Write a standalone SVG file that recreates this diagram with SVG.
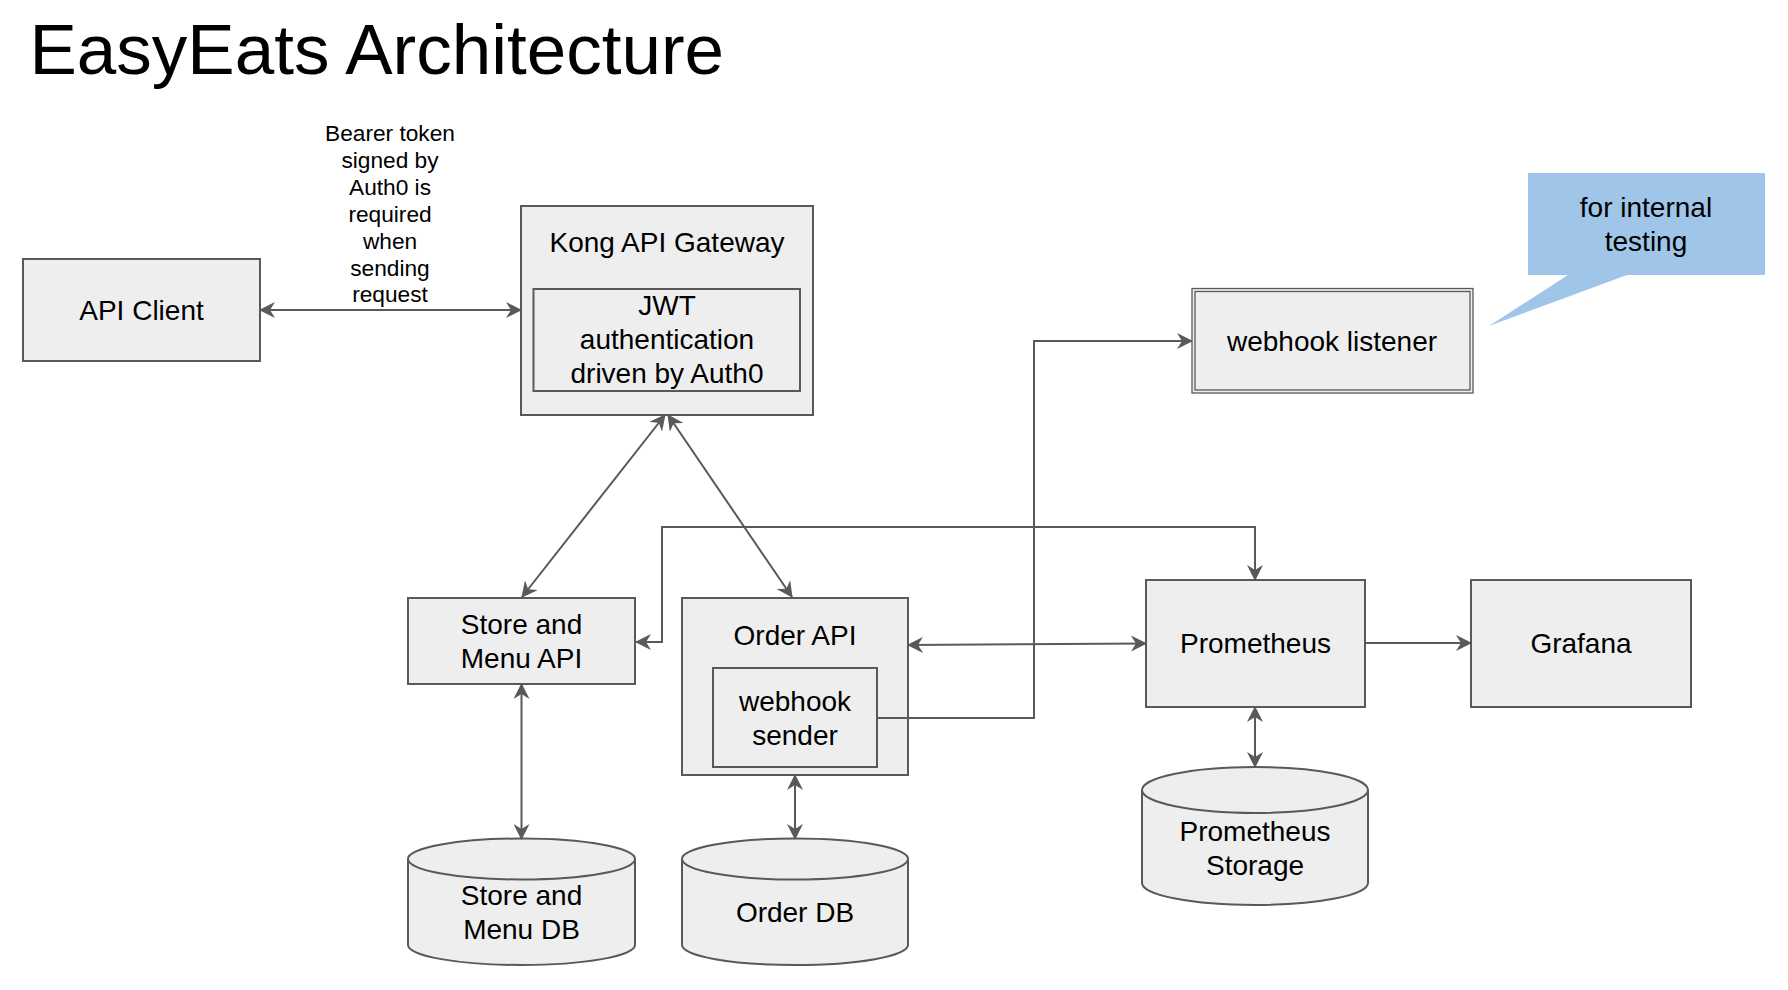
<svg xmlns="http://www.w3.org/2000/svg" width="1788" height="990" viewBox="0 0 1788 990">
<style>
.box{fill:#eeeeee;stroke:#595959;stroke-width:2}
.thin{fill:none;stroke:#595959;stroke-width:1.3}
.con{fill:none;stroke:#595959;stroke-width:2}
text{font-family:"Liberation Sans",Arial,sans-serif;fill:#000;text-anchor:middle}
.l{font-size:28px}
.s{font-size:22.7px}
</style>
<defs>
<marker id="ah" viewBox="0 0 16 16" refX="15" refY="8" markerWidth="16" markerHeight="16" markerUnits="userSpaceOnUse" orient="auto-start-reverse">
<path d="M0,0 L16,8 L0,16 L5,8 Z" fill="#595959"/>
</marker>
</defs>
<rect width="1788" height="990" fill="#ffffff"/>
<text x="29.5" y="74" style="font-size:71px;text-anchor:start">EasyEats Architecture</text>

<g id="api-client">
<rect class="box" x="23" y="259" width="237" height="102"/>
<text class="l" x="141.5" y="320">API Client</text>
</g>

<g id="kong">
<rect class="box" x="521" y="206" width="292" height="209"/>
<text class="l" x="667" y="252">Kong API Gateway</text>
</g>
<g id="jwt">
<rect class="box" x="533.5" y="289" width="266.5" height="102"/>
<text class="l" x="667" y="315">JWT</text>
<text class="l" x="667" y="349">authentication</text>
<text class="l" x="667" y="383">driven by Auth0</text>
</g>

<g id="webhook-listener">
<rect x="1192" y="288.5" width="281" height="104.5" fill="#eeeeee" stroke="#595959" stroke-width="1.3"/>
<rect class="thin" x="1195" y="291.5" width="275" height="98.5"/>
<text class="l" x="1332" y="351">webhook listener</text>
</g>

<g id="callout">
<path d="M1528,173 L1765,173 L1765,275 L1627,275 L1489,326 L1568,275 L1528,275 Z" fill="#9fc5e8"/>
<text class="l" x="1646" y="217">for internal</text>
<text class="l" x="1646" y="251">testing</text>
</g>

<g id="store-api">
<rect class="box" x="408" y="598" width="227" height="86"/>
<text class="l" x="521.5" y="634">Store and</text>
<text class="l" x="521.5" y="668">Menu API</text>
</g>

<g id="order-api">
<rect class="box" x="682" y="598" width="226" height="177"/>
<text class="l" x="795" y="645">Order API</text>
</g>
<g id="webhook-sender">
<rect class="box" x="713" y="668" width="164" height="99"/>
<text class="l" x="795" y="711">webhook</text>
<text class="l" x="795" y="745">sender</text>
</g>

<g id="prometheus">
<rect class="box" x="1146" y="580" width="219" height="127"/>
<text class="l" x="1255.5" y="653">Prometheus</text>
</g>

<g id="grafana">
<rect class="box" x="1471" y="580" width="220" height="127"/>
<text class="l" x="1581" y="653">Grafana</text>
</g>

<g id="prometheus-storage">
<path class="box" d="M1142,790 A113,23 0 0 1 1368,790 L1368,883 A113,22 0 0 1 1142,883 Z"/>
<path class="con" d="M1142,790 A113,23 0 0 0 1368,790"/>
<text class="l" x="1255" y="841">Prometheus</text>
<text class="l" x="1255" y="875">Storage</text>
</g>

<g id="store-db">
<path class="box" d="M408,859 A113.5,20.5 0 0 1 635,859 L635,945 A113.5,20 0 0 1 408,945 Z"/>
<path class="con" d="M408,859 A113.5,20.5 0 0 0 635,859"/>
<text class="l" x="521.5" y="905">Store and</text>
<text class="l" x="521.5" y="939">Menu DB</text>
</g>

<g id="order-db">
<path class="box" d="M682,859 A113,20.5 0 0 1 908,859 L908,945 A113,20 0 0 1 682,945 Z"/>
<path class="con" d="M682,859 A113,20.5 0 0 0 908,859"/>
<text class="l" x="795" y="922">Order DB</text>
</g>

<g id="connectors">
<path class="con" d="M260,310 L521,310" marker-start="url(#ah)" marker-end="url(#ah)"/>
<path class="con" d="M522,597 L665,415" marker-start="url(#ah)" marker-end="url(#ah)"/>
<path class="con" d="M668,415 L792,597" marker-start="url(#ah)" marker-end="url(#ah)"/>
<path class="con" d="M636,642 L662,642 L662,527 L1255,527 L1255,580" marker-start="url(#ah)" marker-end="url(#ah)"/>
<path class="con" d="M908,645 L1146,643.5" marker-start="url(#ah)" marker-end="url(#ah)"/>
<path class="con" d="M1365,643 L1471,643" marker-end="url(#ah)"/>
<path class="con" d="M877,718 L1034,718 L1034,341 L1192,341" marker-end="url(#ah)"/>
<path class="con" d="M1255,707 L1255,767" marker-start="url(#ah)" marker-end="url(#ah)"/>
<path class="con" d="M521.5,684 L521.5,839" marker-start="url(#ah)" marker-end="url(#ah)"/>
<path class="con" d="M795,775 L795,839" marker-start="url(#ah)" marker-end="url(#ah)"/>
<g class="s">
<text x="390" y="141">Bearer token</text>
<text x="390" y="168">signed by</text>
<text x="390" y="195">Auth0 is</text>
<text x="390" y="222">required</text>
<text x="390" y="249">when</text>
<text x="390" y="276">sending</text>
<text x="390" y="302">request</text>
</g>
</g>
</svg>
